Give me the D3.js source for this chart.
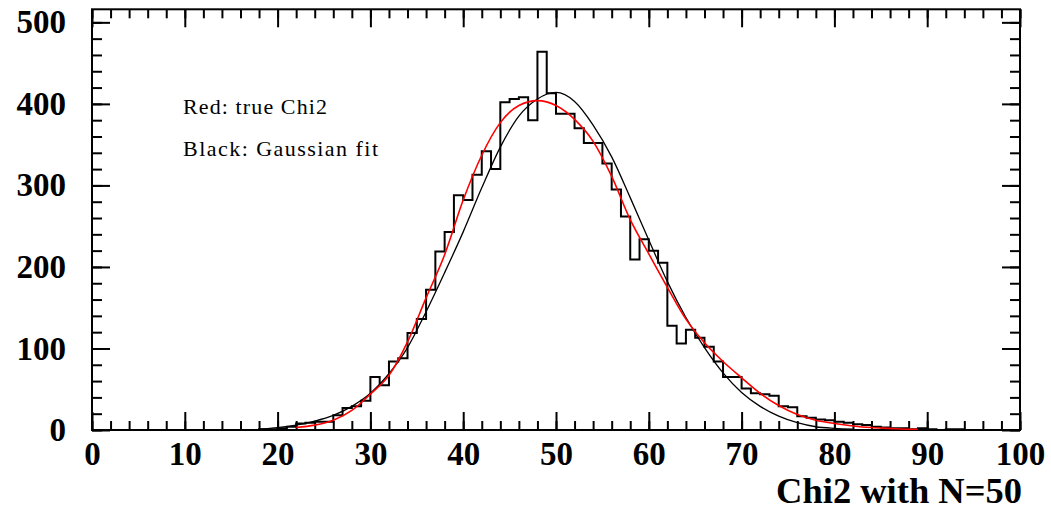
<!DOCTYPE html>
<html>
<head>
<meta charset="utf-8">
<script src="https://cdn.jsdelivr.net/npm/d3@7"></script>
<style>
  body { margin: 0; background: #fff; }
  svg { display: block; }
</style>
</head>
<body>
<div id="chart"></div>
<script>
// histogram: 100 bins of width 1 between 0 and 100
const binEdges = d3.range(0, 101, 1);
const counts = [
    0, 0, 0, 0, 0, 0, 0, 0, 0, 0,
    0, 0, 0, 0, 0, 0, 0, 0, 1, 1,
    2, 4, 8, 9, 10, 10, 18, 27, 29, 36,
    65, 55, 84, 88, 119, 136, 172, 219, 243, 288,
    282, 313, 342, 320, 402, 406, 408, 380, 464, 413,
    388, 388, 370, 352, 352, 327, 295, 262, 209, 234,
    220, 205, 128, 106, 123, 113, 102, 84, 65, 65,
    51, 45, 44, 42, 29, 28, 17, 15, 13, 12,
    10, 9, 7, 6, 4, 3, 2, 2, 1, 2,
    1, 0, 1, 1, 0, 0, 0, 0, 0, 0
];

// red curve: true chi2
const chi2X = [22, 24, 26, 28, 30, 32, 34, 36, 38, 40, 42, 44, 46, 48, 50, 52, 54, 56, 58, 60, 62, 64, 66, 68, 70, 72, 74, 76, 78, 80, 82, 84, 86, 88, 89];
const chi2Y = [3, 6, 12, 24, 44, 67, 108, 162, 215, 282, 337, 377, 398, 404, 398, 381, 354, 311, 258, 216, 175, 136, 107, 84, 64, 45, 30, 19, 12, 8, 5, 3, 2, 1, 1];

// black curve: gaussian fit
const fitX = [18, 20, 22, 24, 26, 28, 30, 32, 34, 36, 38, 40, 42, 44, 46, 48, 50, 52, 54, 56, 58, 60, 62, 64, 66, 68, 70, 72, 74, 76, 78, 80, 82];
const fitY = [1, 3, 6, 11, 18, 29, 45, 69, 101, 145, 193, 243, 297, 347, 385, 406, 414, 403, 374, 335, 285, 233, 182, 138, 101, 70, 46, 29, 17, 9, 4, 2, 1];

const xMajor = d3.range(0, 101, 10);
const xMinor = d3.range(0, 101, 2);
const yMajor = [0, 100, 200, 300, 400, 500];
const yMinor = d3.range(0, 501, 20);

const legendLines = ["Red: true Chi2", "Black: Gaussian fit"];
const legendWidths = [144, 195];
const xTitle = "Chi2 with N=50";

const W = 1051, H = 511;
const frame = { left: 92, right: 1020, top: 9.3, bottom: 430 };

const svg = d3.select("#chart").append("svg")
    .attr("width", W)
    .attr("height", H);

const x = d3.scaleLinear().domain([0, 100]).range([frame.left, frame.right]);
const y = d3.scaleLinear().domain([0, 516]).range([frame.bottom, frame.top]);

const font = "'Liberation Serif', 'Times New Roman', serif";

function styleAxis(g) {
    g.select(".domain").remove();
    g.selectAll(".tick line").attr("stroke", "#000").attr("stroke-width", 2);
    g.selectAll(".tick text")
        .attr("fill", "#000")
        .style("font-family", font)
        .style("font-size", "33px")
        .style("font-weight", "bold");
}

// bottom axis
svg.append("g").attr("transform", `translate(0,${frame.bottom})`)
    .call(d3.axisBottom(x).tickValues(xMinor).tickSize(-9).tickFormat(""))
    .call(styleAxis);
svg.append("g").attr("transform", `translate(0,${frame.bottom})`)
    .call(d3.axisBottom(x).tickValues(xMajor).tickSize(-18).tickPadding(12).tickFormat(d3.format("d")))
    .call(styleAxis);

// top axis (ticks only)
svg.append("g").attr("transform", `translate(0,${frame.top})`)
    .call(d3.axisTop(x).tickValues(xMinor).tickSize(-9).tickFormat(""))
    .call(styleAxis);
svg.append("g").attr("transform", `translate(0,${frame.top})`)
    .call(d3.axisTop(x).tickValues(xMajor).tickSize(-18).tickFormat(""))
    .call(styleAxis);

// left axis
svg.append("g").attr("transform", `translate(${frame.left},0)`)
    .call(d3.axisLeft(y).tickValues(yMinor).tickSize(-10).tickFormat(""))
    .call(styleAxis);
svg.append("g").attr("transform", `translate(${frame.left},0)`)
    .call(d3.axisLeft(y).tickValues(yMajor).tickSize(-18).tickPadding(26).tickFormat(d3.format("d")))
    .call(styleAxis);

// right axis (ticks only)
svg.append("g").attr("transform", `translate(${frame.right},0)`)
    .call(d3.axisRight(y).tickValues(yMinor).tickSize(-10).tickFormat(""))
    .call(styleAxis);
svg.append("g").attr("transform", `translate(${frame.right},0)`)
    .call(d3.axisRight(y).tickValues(yMajor).tickSize(-18).tickFormat(""))
    .call(styleAxis);

// frame
svg.append("rect")
    .attr("x", frame.left)
    .attr("y", frame.top)
    .attr("width", frame.right - frame.left)
    .attr("height", frame.bottom - frame.top)
    .attr("fill", "none")
    .attr("stroke", "#000")
    .attr("stroke-width", 2);

// histogram outline
const histPts = counts.map((c, i) => [binEdges[i], c]);
histPts.push([binEdges[counts.length], counts[counts.length - 1]]);
svg.append("path")
    .datum(histPts)
    .attr("fill", "none")
    .attr("stroke", "#000")
    .attr("stroke-width", 2)
    .attr("d", d3.line().x(d => x(d[0])).y(d => y(d[1])).curve(d3.curveStepAfter));

// gaussian fit
svg.append("path")
    .datum(fitX.map((v, i) => [v, fitY[i]]))
    .attr("fill", "none")
    .attr("stroke", "#000")
    .attr("stroke-width", 1.3)
    .attr("d", d3.line().x(d => x(d[0])).y(d => y(d[1])).curve(d3.curveMonotoneX));

// true chi2
svg.append("path")
    .datum(chi2X.map((v, i) => [v, chi2Y[i]]))
    .attr("fill", "none")
    .attr("stroke", "#ff0000")
    .attr("stroke-width", 1.6)
    .attr("d", d3.line().x(d => x(d[0])).y(d => y(d[1])).curve(d3.curveMonotoneX));

// legend text
svg.selectAll(".legend")
    .data(legendLines)
    .enter()
    .append("text")
    .attr("class", "legend")
    .attr("x", 183)
    .attr("y", (d, i) => 114 + i * 42)
    .attr("textLength", (d, i) => legendWidths[i])
    .attr("lengthAdjust", "spacing")
    .style("font-family", font)
    .style("font-size", "22px")
    .attr("fill", "#000")
    .text(d => d);

// x title
svg.append("text")
    .attr("x", 1022)
    .attr("y", 503)
    .attr("text-anchor", "end")
    .style("font-family", font)
    .style("font-size", "36.5px")
    .style("font-weight", "bold")
    .attr("fill", "#000")
    .text(xTitle);
</script>
</body>
</html>
